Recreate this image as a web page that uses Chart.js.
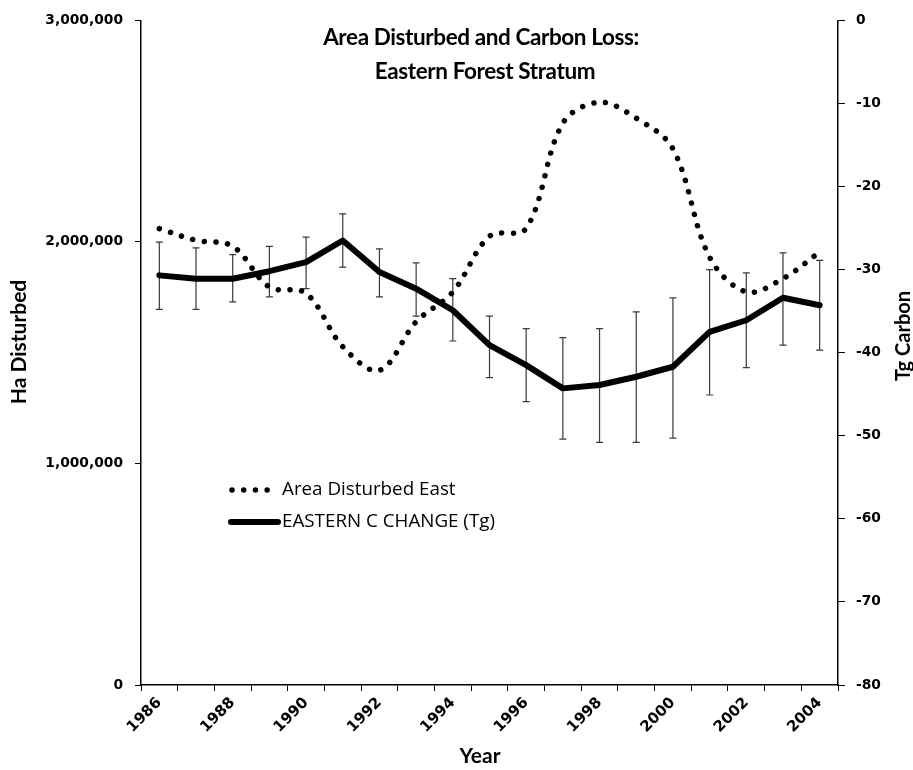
<!DOCTYPE html>
<html><head><meta charset="utf-8">
<script src="https://cdn.jsdelivr.net/npm/chart.js@4.4.0/dist/chart.umd.min.js"></script>
<style>html,body{margin:0;padding:0;background:#fff;} #wrap{width:913px;height:770px;position:relative;}</style>
</head><body><div id="wrap"><canvas id="c"></canvas></div>
<script>
const years = ['1986','1987','1988','1989','1990','1991','1992','1993','1994','1995','1996','1997','1998','1999','2000','2001','2002','2003','2004'];
const areaDisturbedEast = [2060000,2007000,1980000,1796000,1768000,1527000,1420000,1639000,1774000,2025000,2061000,2536000,2630000,2558000,2420000,1931000,1774000,1834000,1954000];
const easternCChange = [-30.7,-31.1,-31.1,-30.2,-29.1,-26.5,-30.3,-32.3,-34.9,-39.1,-41.5,-44.3,-43.9,-42.9,-41.7,-37.5,-36.1,-33.4,-34.3];
const cChangeUpper = [-26.7,-27.4,-28.2,-27.2,-26.1,-23.3,-27.5,-29.2,-31.1,-35.6,-37.1,-38.2,-37.1,-35.1,-33.4,-30.0,-30.4,-28.0,-28.9];
const cChangeLower = [-34.8,-34.8,-33.9,-33.3,-32.3,-29.7,-33.3,-35.6,-38.6,-43.0,-45.9,-50.4,-50.8,-50.8,-50.3,-45.1,-41.8,-39.1,-39.7];
const leftTicks = [0,1000000,2000000,3000000];
const rightTicks = [-80,-70,-60,-50,-40,-30,-20,-10,0];
const titleLines = ['Area Disturbed and Carbon Loss:','Eastern Forest Stratum'];
const seriesNames = ['Area Disturbed East','EASTERN C CHANGE (Tg)'];

const TICK_FONT = {family:'DejaVu Sans', weight:'bold', size:13.8};
const XTICK_FONT = {family:'DejaVu Sans', weight:'bold', size:15};

const overlay = {
  id:'overlay',
  beforeDatasetsDraw(chart){
    const ctx = chart.ctx, x = chart.scales.x, y1 = chart.scales.y1;
    ctx.save();
    ctx.strokeStyle = '#3a3a3a';
    ctx.lineWidth = 1.2;
    cChangeUpper.forEach((hi,i)=>{
      const px = x.getPixelForValue(i);
      const pt = y1.getPixelForValue(hi), pb = y1.getPixelForValue(cChangeLower[i]);
      ctx.beginPath();
      ctx.moveTo(px,pt); ctx.lineTo(px,pb);
      ctx.moveTo(px-3.5,pt); ctx.lineTo(px+3.5,pt);
      ctx.moveTo(px-3.5,pb); ctx.lineTo(px+3.5,pb);
      ctx.stroke();
    });
    ctx.restore();
  },
  afterDraw(chart){
    const ctx = chart.ctx;
    ctx.save();
    ctx.fillStyle = '#000';
    ctx.textAlign = 'center'; ctx.textBaseline = 'middle';
    ctx.font = 'bold 22.5px Lato';
    try { ctx.letterSpacing = '-0.4px'; } catch(e) {}
    ctx.fillText(titleLines[0], 481, 38);
    ctx.fillText(titleLines[1], 485, 72);
    try { ctx.letterSpacing = '0px'; } catch(e) {}
    // axis titles
    ctx.font = 'bold 21px Lato';
    ctx.fillText('Year', 480, 756);
    ctx.save(); ctx.translate(19, 342); ctx.rotate(-Math.PI/2); ctx.fillText('Ha Disturbed',0,0); ctx.restore();
    ctx.font = 'bold 20px Lato';
    ctx.save(); ctx.translate(904, 336); ctx.rotate(-Math.PI/2); ctx.fillText('Tg Carbon',0,0); ctx.restore();
    // legend
    const ds = chart.data.datasets;
    ctx.textAlign = 'left';
    ctx.font = '18.8px "Open Sans"';
    const rows = [490, 522];
    ds.forEach((d,i)=>{
      const yy = rows[i];
      ctx.save();
      ctx.strokeStyle = d.borderColor; ctx.lineWidth = d.borderWidth;
      ctx.lineCap = d.borderCapStyle || 'butt';
      ctx.setLineDash(d.borderDash || []);
      ctx.beginPath();
      if (i===0){ ctx.moveTo(232,yy); ctx.lineTo(276,yy); }
      else { ctx.moveTo(231,yy); ctx.lineTo(278,yy); }
      ctx.stroke();
      ctx.restore();
      ctx.fillText(d.label, 282, yy);
    });
    ctx.restore();
  }
};

new Chart(document.getElementById('c'), {
  type:'line',
  data:{
    labels: years,
    datasets:[
      {label:seriesNames[0], data:areaDisturbedEast, yAxisID:'y', borderColor:'#000', borderWidth:5.5,
       borderDash:[0.01,11.7], borderCapStyle:'round', tension:0.35, pointRadius:0, fill:false, order:1},
      {label:seriesNames[1], data:easternCChange, yAxisID:'y1', borderColor:'#000', borderWidth:6,
       borderCapStyle:'round', borderJoinStyle:'round', tension:0, pointRadius:0, fill:false, order:0}
    ]
  },
  options:{
    responsive:true, maintainAspectRatio:false, animation:false,
    layout:{padding:{top:17,left:0,right:0,bottom:0}},
    plugins:{legend:{display:false}, title:{display:false}, tooltip:{enabled:false}},
    scales:{
      x:{
        type:'category', offset:true,
        grid:{display:true, offset:true, drawOnChartArea:false, drawTicks:true, tickLength:6, color:'#000', lineWidth:1},
        border:{display:true, color:'#000', width:1.5},
        ticks:{autoSkip:false, maxRotation:45, minRotation:45, color:'#000', font:XTICK_FONT, padding:3,
          callback:(v,i)=> (i%2===0 ? years[i] : '')},
        afterFit:s=>{s.height = 85;}
      },
      y:{
        position:'left', min:0, max:3000000,
        afterBuildTicks:s=>{s.ticks = leftTicks.map(v=>({value:v}));},
        grid:{display:true, drawOnChartArea:false, drawTicks:true, tickLength:6, color:'#000'},
        border:{display:true, color:'#000', width:1.5},
        ticks:{color:'#000', font:TICK_FONT, padding:12, callback:v=>v.toLocaleString('en-US')},
        afterFit:s=>{s.width = 141;}
      },
      y1:{
        position:'right', min:-80, max:0,
        afterBuildTicks:s=>{s.ticks = rightTicks.map(v=>({value:v}));},
        grid:{display:true, drawOnChartArea:false, drawTicks:true, tickLength:7, color:'#000'},
        border:{display:true, color:'#000', width:1.5},
        ticks:{color:'#000', font:TICK_FONT, padding:11, callback:v=>String(v)},
        afterFit:s=>{s.width = 75;}
      }
    }
  },
  plugins:[overlay]
});
</script>
</body></html>
